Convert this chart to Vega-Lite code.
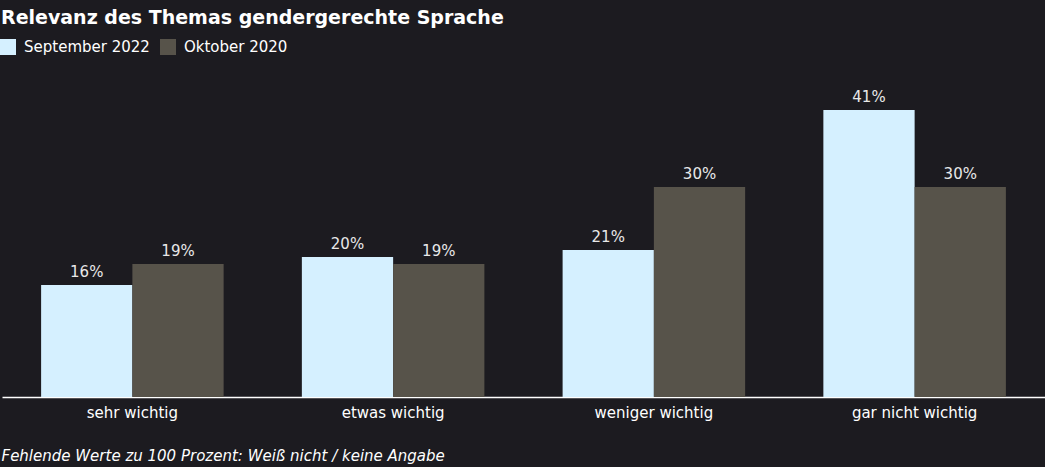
{
  "$schema": "https://vega.github.io/schema/vega-lite/v6.json",
  "autosize": {"type": "none"},
  "width": 1043,
  "height": 350,
  "padding": {"left": 2, "top": 47, "right": 0, "bottom": 70},
  "background": "#1c1b20",
  "title": {
    "text": "Relevanz des Themas gendergerechte Sprache",
    "anchor": "start",
    "frame": "group",
    "font": "DejaVu Sans",
    "fontSize": 19,
    "fontWeight": "bold",
    "color": "#ffffff",
    "offset": 20,
    "dy": 9,
    "dx": -1
  },
  "config": {
    "view": {"stroke": null},
    "font": "DejaVu Sans"
  },
  "data": {
    "values": [
      {"kategorie": "sehr wichtig", "serie": "September 2022", "anteil": 0.16},
      {"kategorie": "sehr wichtig", "serie": "Oktober 2020", "anteil": 0.19},
      {"kategorie": "etwas wichtig", "serie": "September 2022", "anteil": 0.20},
      {"kategorie": "etwas wichtig", "serie": "Oktober 2020", "anteil": 0.19},
      {"kategorie": "weniger wichtig", "serie": "September 2022", "anteil": 0.21},
      {"kategorie": "weniger wichtig", "serie": "Oktober 2020", "anteil": 0.30},
      {"kategorie": "gar nicht wichtig", "serie": "September 2022", "anteil": 0.41},
      {"kategorie": "gar nicht wichtig", "serie": "Oktober 2020", "anteil": 0.30}
    ]
  },
  "encoding": {
    "x": {
      "field": "kategorie",
      "type": "nominal",
      "sort": ["sehr wichtig", "etwas wichtig", "weniger wichtig", "gar nicht wichtig"],
      "scale": {"paddingInner": 0.3, "paddingOuter": 0.15},
      "axis": {
        "title": "Fehlende Werte zu 100 Prozent: Weiß nicht / keine Angabe",
        "titleFont": "DejaVu Sans",
        "titleFontStyle": "italic",
        "titleFontWeight": "normal",
        "titleFontSize": 15,
        "titleColor": "#ffffff",
        "titleAnchor": "start",
        "titleAlign": "left",
        "titleBaseline": "alphabetic",
        "titleX": -1,
        "titleY": 63,
        "labelAngle": 0,
        "labelFontSize": 15,
        "labelColor": "#ffffff",
        "labelPadding": 8,
        "ticks": false,
        "domainColor": "#ffffff",
        "domainWidth": 1.5,
        "grid": false
      }
    },
    "xOffset": {
      "field": "serie",
      "type": "nominal",
      "sort": ["September 2022", "Oktober 2020"]
    },
    "y": {
      "field": "anteil",
      "type": "quantitative",
      "scale": {"domain": [0, 0.5]},
      "axis": null
    }
  },
  "layer": [
    {
      "mark": {"type": "bar"},
      "encoding": {
        "color": {
          "field": "serie",
          "type": "nominal",
          "sort": ["September 2022", "Oktober 2020"],
          "scale": {"domain": ["September 2022", "Oktober 2020"], "range": ["#d5f0ff", "#57534a"]},
          "legend": {
            "title": null,
            "orient": "none",
            "direction": "horizontal",
            "legendX": -2,
            "legendY": -8,
            "symbolType": "square",
            "symbolSize": 256,
            "symbolStrokeWidth": 0,
            "symbolOpacity": 1,
            "labelColor": "#ffffff",
            "labelFontSize": 15,
            "labelFont": "DejaVu Sans",
            "labelOffset": 8,
            "columnPadding": 10
          }
        }
      }
    },
    {
      "mark": {"type": "text", "dy": -13, "fontSize": 15, "color": "#e8e8e8"},
      "encoding": {
        "text": {"field": "anteil", "type": "quantitative", "format": ".0%"},
        "detail": {"field": "serie"}
      }
    }
  ]
}
